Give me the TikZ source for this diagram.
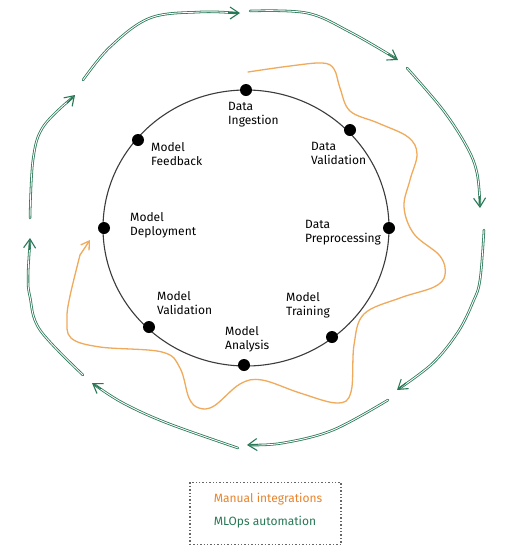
\documentclass[tikz,border=0pt]{standalone}
\usepackage{fontspec}
\setmainfont{Fira Sans}
\usetikzlibrary{arrows.meta,calc}
\definecolor{mlgreen}{RGB}{40,120,86}
\definecolor{manorange}{RGB}{240,170,92}
\definecolor{manorangetext}{RGB}{232,132,44}
\definecolor{ringgray}{RGB}{60,60,60}
\tikzset{
  dot/.style={circle,fill=black,minimum size=12pt,inner sep=0pt},
  lbl/.style={anchor=north west,align=left,inner sep=0pt,font=\fontsize{12}{14}\selectfont,text=black},
  greenline/.style={draw=mlgreen,double=white,double distance=0.9pt,line width=0.8pt,line cap=round},
  greentip/.style={draw=mlgreen,line width=1.1pt,-{Straight Barb[length=9pt,width=12pt]}},
  orangeline/.style={draw=manorange,line width=1.3pt,line cap=round},
  orangetip/.style={draw=manorange,line width=1.3pt,-{Straight Barb[length=8pt,width=10pt]}},
  legtext/.style={font=\fontsize{12}{14}\selectfont,inner sep=0pt}
}
\begin{document}
\begin{tikzpicture}[x=1pt,y=-1pt]
\useasboundingbox[fill=white] (0,0) rectangle (517,560);

% ring
\draw[ringgray,line width=1.1pt] (246,228) ellipse [x radius=143pt, y radius=138pt];

% stage dots
\node[dot] (ing) at (246,90) {};
\node[dot] (val) at (350,130) {};
\node[dot] (pre) at (389,228) {};
\node[dot] (tra) at (332,337) {};
\node[dot] (ana) at (244,365) {};
\node[dot] (mva) at (149,327) {};
\node[dot] (dep) at (104,228) {};
\node[dot] (fee) at (138,140) {};

% labels
\node[lbl] (ling) at (228,102) {Data\\Ingestion};
\node[lbl] (lfee) at (151,142) {Model\\Feedback};
\node[lbl] (lval) at (311,142) {Data\\Validation};
\node[lbl] (ldep) at (130,212) {Model\\Deployment};
\node[lbl] (lpre) at (305,220) {Data\\Preprocessing};
\node[lbl] (lmva) at (157,291) {Model\\Validation};
\node[lbl] (ltra) at (286,292) {Model\\Training};
\node[lbl] (lana) at (225,326) {Model\\Analysis};

% manual integrations (orange)
\coordinate (os) at (248,72);
\coordinate (op) at (80,255);
\coordinate (oe) at (90,240);
\draw[orangeline] plot[smooth,tension=0.6] coordinates {
 (248,72) (290,66) (322,63) (334,69) (340,88) (350,111) (378,123) (408,137) (417,154)
 (410,180) (404,207) (414,234) (440,256) (445,275) (434,287) (400,298) (364,314)
 (354,345) (351,392) (337,403) (300,393) (262,380) (240,384) (214,406) (199,408)
 (189,398) (180,368) (162,352) (100,347) (71,338) (67,318) (70,296) (80,255)};
\draw[orangetip] (op) -- (oe);

% MLOps automation (green)
\draw[greenline] plot[smooth,tension=0.6] coordinates {(83,80) (110,47) (150,18) (200,12) (236,13)};
\coordinate (g1p) at (228,13); \coordinate (g1e) at (240,13);
\draw[greentip] (g1p) -- (g1e);

\draw[greenline] plot[smooth,tension=0.6] coordinates {(250,11) (307,13) (350,32) (395,58)};
\coordinate (g2p) at (388,54); \coordinate (g2e) at (398,60);
\draw[greentip] (g2p) -- (g2e);

\draw[greenline] plot[smooth,tension=0.6] coordinates {(407,68) (443,110) (467,147) (477,173) (480,204)};
\coordinate (g3p) at (479.5,196); \coordinate (g3e) at (480,208);
\draw[greentip] (g3p) -- (g3e);

\draw[greenline] plot[smooth,tension=0.6] coordinates {(484,230) (480,280) (473,302) (458,332) (433,363) (400,388)};
\coordinate (g4p) at (406,383); \coordinate (g4e) at (397,390);
\draw[greentip] (g4p) -- (g4e);

\draw[greenline] plot[smooth,tension=0.6] coordinates {(388,400) (333,430) (283,443) (251,445)};
\coordinate (g5p) at (258,444.5); \coordinate (g5e) at (247,445);
\draw[greentip] (g5p) -- (g5e);

\draw[greenline] plot[smooth,tension=0.6] coordinates {(238,448) (167,423) (123,403) (95,385)};
\coordinate (g6p) at (101,389); \coordinate (g6e) at (92,383);
\draw[greentip] (g6p) -- (g6e);

\draw[greenline] plot[smooth,tension=0.6] coordinates {(83,375) (40,330) (30,297) (28,277) (30,242)};
\coordinate (g7p) at (29.5,250); \coordinate (g7e) at (30,238);
\draw[greentip] (g7p) -- (g7e);

\draw[greenline] plot[smooth,tension=0.6] coordinates {(30,218) (33,160) (43,127) (72,98)};
\coordinate (g8p) at (67,103); \coordinate (g8e) at (75,95);
\draw[greentip] (g8p) -- (g8e);

% legend
\node[draw=black!60,dotted,line width=1.4pt,minimum width=151pt,minimum height=62pt,inner sep=0pt] (leg) at (265.5,513.5) {};
\node[legtext,text=manorangetext] (lman) at (268,499) {Manual integrations};
\node[legtext,text=mlgreen] (lmlo) at (265,522) {MLOps automation};
\end{tikzpicture}
\end{document}
